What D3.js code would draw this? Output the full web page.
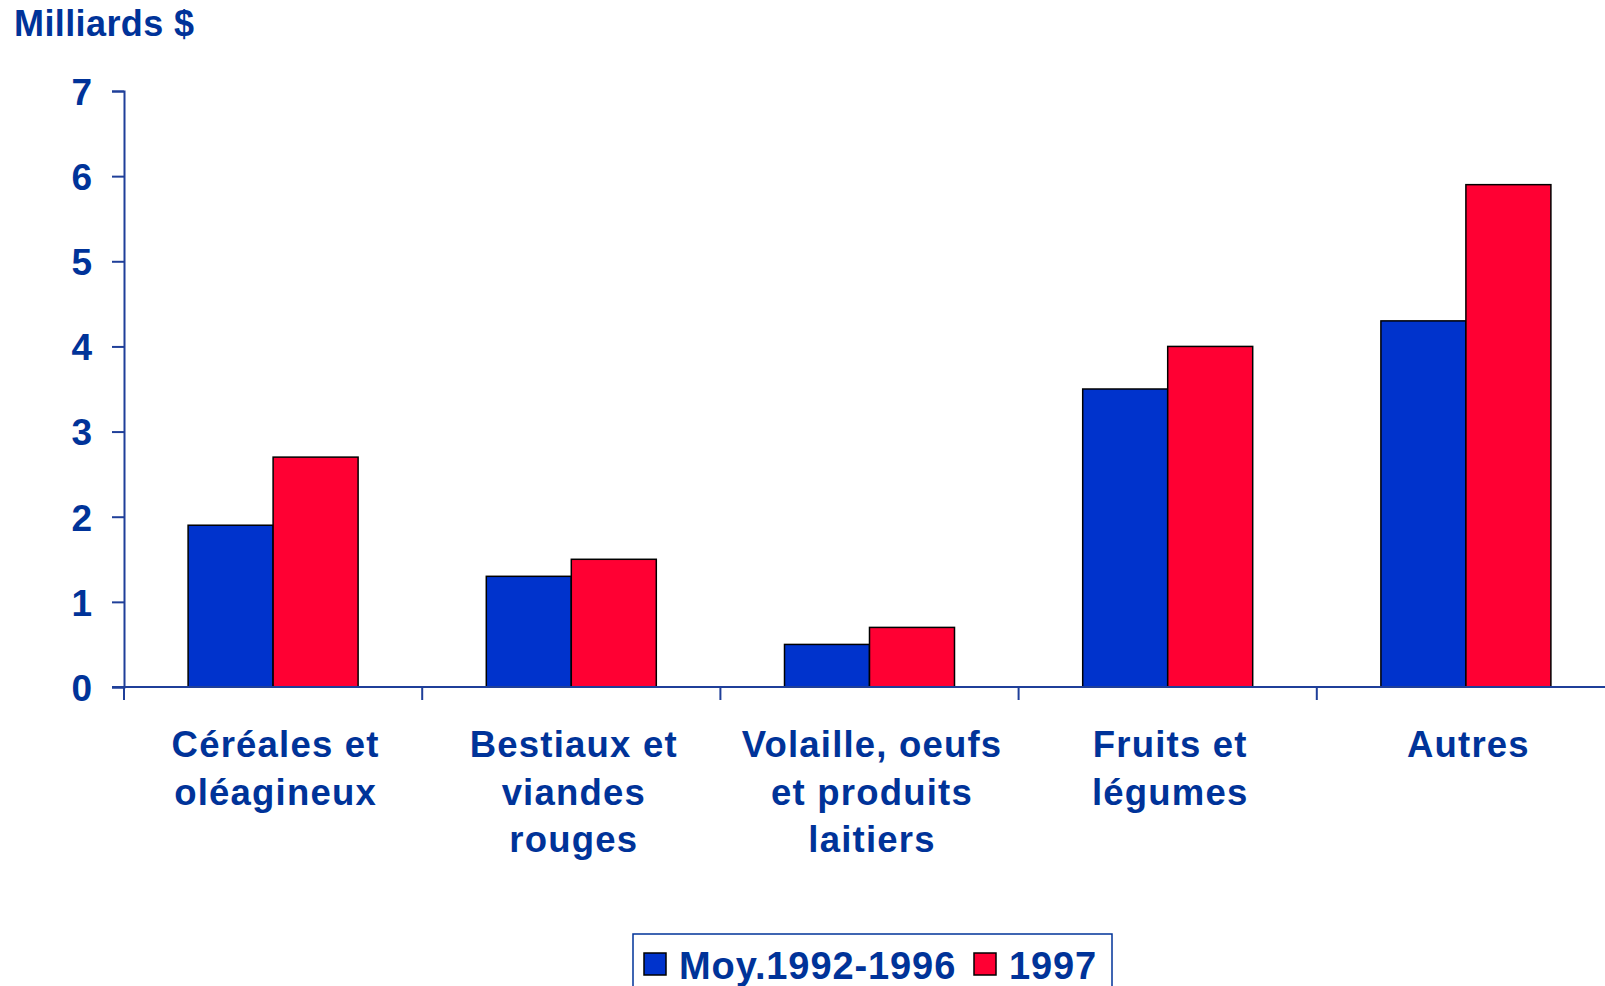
<!DOCTYPE html>
<html>
<head>
<meta charset="utf-8">
<script src="https://cdn.jsdelivr.net/npm/d3@7"></script>
<style>
  html, body { margin: 0; padding: 0; background: #fff; }
  svg { display: block; font-family: "Liberation Sans", Arial, sans-serif; font-weight: bold; }
</style>
</head>
<body>
<div id="chart"></div>
<script>
  // Data
  const categories = [
    ["Céréales et", "oléagineux"],
    ["Bestiaux et", "viandes", "rouges"],
    ["Volaille, oeufs", "et produits", "laitiers"],
    ["Fruits et", "légumes"],
    ["Autres"]
  ];
  const seriesNames = ["Moy.1992-1996", "1997"];
  const avg9296 = [1.9, 1.3, 0.5, 3.5, 4.3];
  const y1997 = [2.7, 1.5, 0.7, 4.0, 5.9];
  const yTicks = [0, 1, 2, 3, 4, 5, 6, 7];

  const colors = ["#0033cc", "#ff0033"];
  const navy = "#003399";
  const axisColor = "#1f3f99";

  const width = 1605, height = 986;
  const plotLeft = 124, plotRight = 1615, plotTop = 91, plotBottom = 687;

  const svg = d3.select("#chart").append("svg")
    .attr("width", width)
    .attr("height", height);

  const x = d3.scaleBand()
    .domain(d3.range(categories.length))
    .range([plotLeft, plotRight])
    .paddingInner(0)
    .paddingOuter(0);

  const inner = d3.scaleBand()
    .domain([0, 1])
    .range([0, 170]);

  const y = d3.scaleLinear()
    .domain([0, 7])
    .range([plotBottom, plotTop]);

  // title
  svg.append("text")
    .attr("x", 14)
    .attr("y", 36)
    .attr("fill", navy)
    .style("font-size", "36px")
    .style("letter-spacing", "0.4px")
    .text("Milliards $");

  // bars
  const groups = svg.append("g")
    .selectAll("g")
    .data(categories.map((c, i) => [avg9296[i], y1997[i]]))
    .join("g")
    .attr("transform", (d, i) => "translate(" + (x(i) + x.bandwidth() / 2 - 85) + ",0)");

  groups.selectAll("rect")
    .data(d => d)
    .join("rect")
    .attr("x", (d, j) => inner(j))
    .attr("y", d => y(d))
    .attr("width", inner.bandwidth())
    .attr("height", d => plotBottom - y(d))
    .attr("fill", (d, j) => colors[j])
    .attr("stroke", "#000")
    .attr("stroke-width", 1.5);

  // y axis
  const yAxis = svg.append("g")
    .attr("transform", "translate(" + plotLeft + ",0)")
    .call(d3.axisLeft(y).tickValues(yTicks).tickSize(12).tickPadding(20).tickFormat(d3.format("d")));
  yAxis.select(".domain").attr("stroke", axisColor).attr("stroke-width", 2);
  yAxis.selectAll(".tick line").attr("stroke", axisColor).attr("stroke-width", 2);
  yAxis.selectAll(".tick text")
    .attr("fill", navy)
    .attr("dy", "0.36em")
    .style("font-size", "37px")
    .style("font-family", "'Liberation Sans', Arial, sans-serif")
    .style("font-weight", "bold");

  // x axis: line with ticks at band boundaries
  const xAxis = svg.append("g");
  xAxis.append("line")
    .attr("x1", plotLeft - 12).attr("x2", width)
    .attr("y1", plotBottom).attr("y2", plotBottom)
    .attr("stroke", axisColor).attr("stroke-width", 2);
  xAxis.selectAll("line.tk")
    .data(d3.range(categories.length))
    .join("line")
    .attr("class", "tk")
    .attr("x1", i => x(i)).attr("x2", i => x(i))
    .attr("y1", plotBottom).attr("y2", plotBottom + 13)
    .attr("stroke", axisColor).attr("stroke-width", 2);

  // category labels
  svg.append("g")
    .selectAll("text")
    .data(categories)
    .join("text")
    .attr("text-anchor", "middle")
    .attr("fill", navy)
    .style("font-size", "36.5px")
    .style("letter-spacing", "1.2px")
    .each(function (lines, i) {
      d3.select(this).selectAll("tspan")
        .data(lines)
        .join("tspan")
        .attr("x", x(i) + x.bandwidth() / 2 + 2.5)
        .attr("y", (l, k) => 757 + k * 47.6)
        .text(l => l);
    });

  // legend
  const legend = svg.append("g");
  legend.append("rect")
    .attr("x", 633).attr("y", 934)
    .attr("width", 479).attr("height", 80)
    .attr("fill", "#fff")
    .attr("stroke", navy).attr("stroke-width", 1.5);
  const legendX = [644, 974];
  seriesNames.forEach((name, i) => {
    legend.append("rect")
      .attr("x", legendX[i]).attr("y", 953)
      .attr("width", 22).attr("height", 22)
      .attr("fill", colors[i])
      .attr("stroke", "#000").attr("stroke-width", 1.5);
    legend.append("text")
      .attr("x", legendX[i] + 35).attr("y", 979)
      .attr("fill", navy)
      .style("font-size", "38px")
      .style("letter-spacing", "0.9px")
      .text(name);
  });
</script>
</body>
</html>
